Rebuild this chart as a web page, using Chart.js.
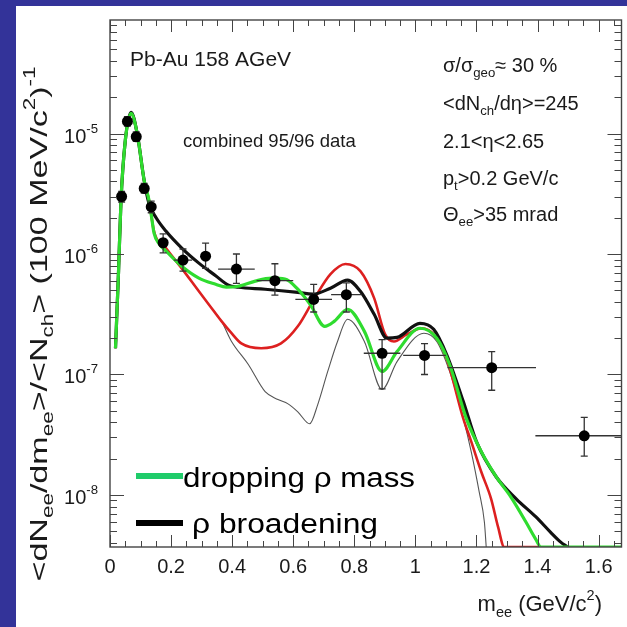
<!DOCTYPE html>
<html>
<head>
<meta charset="UTF-8">
<title>Pb-Au 158 AGeV dielectron spectrum</title>
<script src="https://cdn.jsdelivr.net/npm/chart.js"></script>
<style>
  html, body { margin: 0; padding: 0; background: #fff; }
  canvas { display: block; }
</style>
</head>
<body>
<canvas id="chart" width="627" height="627"></canvas>
<script>
// measured points: mass (GeV/c2), yield, half bin width, error band
const massPoints = [0.038, 0.057, 0.086, 0.112, 0.135, 0.174, 0.239, 0.313, 0.414, 0.54, 0.667, 0.774, 0.891, 1.03, 1.25, 1.553];
const yieldPoints = [3.0e-6, 1.26e-5, 9.4e-6, 3.5e-6, 2.46e-6, 1.24e-6, 8.9e-7, 9.6e-7, 7.5e-7, 6.0e-7, 4.2e-7, 4.6e-7, 1.5e-7, 1.44e-7, 1.14e-7, 3.1e-8];
const binHalfWidth = [0, 0, 0, 0, 0, 0, 0.03, 0, 0.06, 0.06, 0.06, 0.05, 0.06, 0.07, 0.145, 0.16];
const errHigh = [3.3e-6, 1.38e-5, 1.03e-5, 3.85e-6, 2.75e-6, 1.47e-6, 1.1e-6, 1.23e-6, 1.0e-6, 8.3e-7, 5.6e-7, 5.75e-7, 1.95e-7, 1.8e-7, 1.55e-7, 4.4e-8];
const errLow = [2.7e-6, 1.15e-5, 8.6e-6, 3.2e-6, 2.2e-6, 1.02e-6, 7.2e-7, 7.6e-7, 5.7e-7, 4.56e-7, 3.3e-7, 3.3e-7, 7.6e-8, 1.0e-7, 7.4e-8, 2.1e-8];

// model curves [mass, yield]
const greenCurve = [[0.018, 1.65e-7], [0.028, 7.2e-7], [0.036, 2.77e-6], [0.050, 8.7e-6], [0.069, 1.47e-5], [0.089, 1.0e-5],
  [0.112, 4.06e-6], [0.128, 2.77e-6], [0.138, 1.88e-6], [0.144, 1.5e-6], [0.161, 1.21e-6], [0.183, 1.06e-6], [0.235, 7.9e-7],
  [0.291, 6.3e-7], [0.346, 5.6e-7], [0.381, 5.3e-7], [0.420, 5.4e-7], [0.476, 5.96e-7], [0.528, 6.3e-7], [0.573, 6.2e-7],
  [0.615, 5.1e-7], [0.657, 3.76e-7], [0.703, 2.51e-7], [0.735, 2.77e-7], [0.778, 3.48e-7], [0.833, 2.28e-7], [0.891, 1.06e-7],
  [0.940, 1.55e-7], [1.015, 2.42e-7], [1.070, 2.0e-7], [1.112, 1.21e-7], [1.167, 4.3e-8], [1.216, 2.28e-8], [1.265, 1.41e-8],
  [1.313, 9.6e-9], [1.362, 5.96e-9], [1.394, 4.3e-9], [1.411, 3.7e-9], [1.675, 3.7e-9]];
const blackCurve = [[0.018, 1.65e-7], [0.028, 7.2e-7], [0.036, 2.77e-6], [0.050, 8.7e-6], [0.069, 1.5e-5], [0.089, 1.0e-5],
  [0.112, 4.06e-6], [0.128, 2.61e-6], [0.151, 2.0e-6], [0.183, 1.55e-6], [0.235, 1.12e-6], [0.291, 8.4e-7], [0.346, 6.6e-7],
  [0.388, 5.5e-7], [0.420, 5.3e-7], [0.508, 5.1e-7], [0.615, 4.8e-7], [0.664, 4.64e-7], [0.722, 5.2e-7], [0.778, 6.07e-7],
  [0.820, 4.9e-7], [0.865, 3.16e-7], [0.907, 2.0e-7], [0.940, 2.03e-7], [1.015, 2.66e-7], [1.060, 2.37e-7], [1.102, 1.47e-7],
  [1.157, 5.96e-8], [1.200, 2.77e-8], [1.265, 1.41e-8], [1.330, 9.3e-9], [1.394, 6.6e-9], [1.443, 4.9e-9], [1.476, 4.06e-9],
  [1.498, 3.7e-9]];
const redCurve = [[0.018, 1.65e-7], [0.028, 7.2e-7], [0.036, 2.77e-6], [0.050, 8.7e-6], [0.069, 1.47e-5], [0.089, 1.0e-5],
  [0.112, 4.06e-6], [0.128, 2.77e-6], [0.144, 1.55e-6], [0.183, 1.12e-6], [0.235, 7.6e-7], [0.291, 4.9e-7], [0.323, 3.83e-7],
  [0.365, 2.77e-7], [0.398, 2.2e-7], [0.430, 1.81e-7], [0.495, 1.65e-7], [0.560, 1.81e-7], [0.615, 2.51e-7], [0.670, 4.3e-7],
  [0.722, 6.8e-7], [0.771, 8.26e-7], [0.820, 7.2e-7], [0.865, 4.3e-7], [0.901, 2.15e-7], [0.930, 1.88e-7], [0.972, 2.15e-7],
  [1.021, 2.42e-7], [1.060, 2.15e-7], [1.102, 1.36e-7], [1.157, 4.3e-8], [1.183, 2.77e-8], [1.216, 1.55e-8], [1.248, 9.3e-9],
  [1.271, 5.4e-9], [1.291, 3.7e-9], [1.411, 3.7e-9]];
const grayCurve = [[0.018, 1.65e-7], [0.028, 7.2e-7], [0.036, 2.77e-6], [0.050, 8.7e-6], [0.069, 1.47e-5], [0.089, 1.0e-5],
  [0.112, 4.06e-6], [0.128, 2.77e-6], [0.144, 1.55e-6], [0.183, 1.12e-6], [0.235, 7.6e-7], [0.291, 4.9e-7], [0.323, 3.83e-7],
  [0.365, 2.77e-7], [0.398, 1.88e-7], [0.453, 1.21e-7], [0.508, 7.2e-8], [0.550, 6.2e-8], [0.583, 5.7e-8], [0.615, 4.9e-8],
  [0.654, 3.9e-8], [0.680, 5.6e-8], [0.713, 1.06e-7], [0.745, 1.88e-7], [0.778, 2.87e-7], [0.833, 1.88e-7], [0.891, 7.5e-8],
  [0.940, 1.28e-7], [1.028, 2.2e-7], [1.070, 1.88e-7], [1.112, 1.06e-7], [1.157, 4.3e-8], [1.183, 2.28e-8], [1.209, 1.06e-8],
  [1.226, 5.96e-9], [1.232, 3.7e-9]];

const xTicks = [0, 0.2, 0.4, 0.6, 0.8, 1, 1.2, 1.4, 1.6];
const yDecades = [-5, -6, -7, -8];

const FONT = '"Liberation Sans", Arial, Helvetica, sans-serif';
const toXY = arr => arr.map(([x, y]) => ({ x, y }));

function richText(ctx, segs, x, y, size, o = {}) {
  let w = 0;
  const parts = segs.map(([t, m]) => {
    const s = m ? size * 0.66 : size;
    ctx.font = `${s}px ${FONT}`;
    const pw = ctx.measureText(t).width;
    w += pw;
    return { t, s, pw, dy: m === 'sub' ? size * 0.25 : m === 'sup' ? -size * 0.5 : 0 };
  });
  const k = o.width ? o.width / w : 1;
  ctx.save();
  ctx.translate(x, y);
  if (o.rotate) ctx.rotate(o.rotate);
  ctx.scale(k, 1);
  let cx = o.align === 'center' ? -w / 2 : o.align === 'right' ? -w : 0;
  ctx.fillStyle = o.color || '#1a1a1a';
  ctx.textAlign = 'left';
  ctx.textBaseline = 'alphabetic';
  parts.forEach(p => {
    ctx.font = `${p.s}px ${FONT}`;
    ctx.fillText(p.t, cx, p.dy);
    cx += p.pw;
  });
  ctx.restore();
}

const decorations = {
  id: 'decorations',
  beforeDraw(chart) {
    const ctx = chart.ctx;
    ctx.save();
    ctx.fillStyle = '#333399';
    ctx.fillRect(0, 0, 627, 6);
    ctx.fillRect(0, 0, 16, 627);
    ctx.restore();
  },
  afterDatasetDraw(chart, args) {
    if (args.index !== 1) return;
    const { ctx, chartArea: a, scales: { x, y } } = chart;
    ctx.save();
    ctx.beginPath();
    ctx.rect(a.left, a.top, a.right - a.left, a.bottom - a.top);
    ctx.clip();
    ctx.strokeStyle = '#333';
    ctx.lineWidth = 1.3;
    massPoints.forEach((m, i) => {
      const px = x.getPixelForValue(m);
      const py = y.getPixelForValue(yieldPoints[i]);
      const hi = y.getPixelForValue(errHigh[i]);
      const lo = y.getPixelForValue(errLow[i]);
      ctx.beginPath();
      if (binHalfWidth[i] > 0) {
        ctx.moveTo(x.getPixelForValue(m - binHalfWidth[i]), py);
        ctx.lineTo(x.getPixelForValue(m + binHalfWidth[i]), py);
      }
      ctx.moveTo(px, hi); ctx.lineTo(px, lo);
      ctx.moveTo(px - 3.5, hi); ctx.lineTo(px + 3.5, hi);
      ctx.moveTo(px - 3.5, lo); ctx.lineTo(px + 3.5, lo);
      ctx.stroke();
    });
    ctx.restore();
  },
  afterDraw(chart) {
    const { ctx, chartArea: a, scales: { x, y } } = chart;
    ctx.save();
    // frame and inward ticks
    ctx.strokeStyle = '#444';
    ctx.lineWidth = 1.4;
    ctx.strokeRect(a.left, a.top, a.right - a.left, a.bottom - a.top);
    ctx.lineWidth = 1;
    ctx.beginPath();
    for (let d = -9; d <= -4; d++) {
      for (let m = 1; m <= 9; m++) {
        const v = m * Math.pow(10, d);
        if (v < y.min || v > y.max) continue;
        const py = Math.round(y.getPixelForValue(v)) + 0.5;
        const len = m === 1 ? 14 : 7;
        ctx.moveTo(a.left, py); ctx.lineTo(a.left + len, py);
        ctx.moveTo(a.right, py); ctx.lineTo(a.right - len, py);
      }
    }
    for (let i = 0; i * 0.05 <= x.max; i++) {
      const px = Math.round(x.getPixelForValue(i * 0.05)) + 0.5;
      const len = i % 4 === 0 ? 12 : 6;
      ctx.moveTo(px, a.bottom); ctx.lineTo(px, a.bottom - len);
      ctx.moveTo(px, a.top); ctx.lineTo(px, a.top + len);
    }
    ctx.stroke();

    // tick labels
    xTicks.forEach(v => {
      richText(ctx, [[String(v), '']], x.getPixelForValue(v), 573, 20, { align: 'center' });
    });
    yDecades.forEach(d => {
      const py = y.getPixelForValue(Math.pow(10, d));
      richText(ctx, [['10', ''], [String(d), 'sup']], 98, py + 9, 20, { align: 'right' });
    });

    // axis titles
    richText(ctx, [['m', ''], ['ee', 'sub'], [' (GeV/c', ''], ['2', 'sup'], [')', '']], 602, 611, 22, { align: 'right' });
    richText(ctx, [['<dN', ''], ['ee', 'sub'], ['/dm', ''], ['ee', 'sub'], ['>/<N', ''], ['ch', 'sub'],
      ['> (100 MeV/c', ''], ['2', 'sup'], [')', ''], ['-1', 'sup']], 47, 324, 24, { align: 'center', rotate: -Math.PI / 2, width: 515 });

    // annotations
    richText(ctx, [['Pb-Au 158 AGeV', '']], 130, 66, 21);
    richText(ctx, [['combined 95/96 data', '']], 183, 147, 18.5);
    const bx = 443;
    richText(ctx, [['σ/σ', ''], ['geo', 'sub'], ['≈ 30 %', '']], bx, 72, 20);
    richText(ctx, [['<dN', ''], ['ch', 'sub'], ['/dη>=245', '']], bx, 110, 20);
    richText(ctx, [['2.1<η<2.65', '']], bx, 148, 20);
    richText(ctx, [['p', ''], ['t', 'sub'], ['>0.2 GeV/c', '']], bx, 185, 20);
    richText(ctx, [['Θ', ''], ['ee', 'sub'], ['>35 mrad', '']], bx, 221, 20);

    // legend
    ctx.lineWidth = 6;
    ctx.strokeStyle = '#1fcc6a';
    ctx.beginPath(); ctx.moveTo(136, 476); ctx.lineTo(183, 476); ctx.stroke();
    ctx.strokeStyle = '#000';
    ctx.beginPath(); ctx.moveTo(136, 523); ctx.lineTo(183, 523); ctx.stroke();
    richText(ctx, [['dropping ρ mass', '']], 183, 487, 27, { color: '#000', width: 232 });
    richText(ctx, [['ρ broadening', '']], 192, 533, 27, { color: '#000', width: 186 });
    ctx.restore();
  }
};

const curveStyle = (data, color, width) => ({
  data: toXY(data), borderColor: color, borderWidth: width, pointRadius: 0,
  showLine: true, fill: false, cubicInterpolationMode: 'monotone'
});

new Chart(document.getElementById('chart'), {
  type: 'scatter',
  data: {
    datasets: [
      { data: massPoints.map((m, i) => ({ x: m, y: yieldPoints[i] })), backgroundColor: '#000', borderWidth: 0, pointRadius: 5.5, showLine: false },
      curveStyle(greenCurve, '#2fdc2f', 3.2),
      curveStyle(blackCurve, '#111', 3.2),
      curveStyle(redCurve, '#dd2020', 2.6),
      curveStyle(grayCurve, '#555', 1.1)
    ]
  },
  options: {
    responsive: false,
    animation: false,
    layout: { padding: { left: 110, right: 1, top: 20, bottom: 80 } },
    plugins: { legend: { display: false }, tooltip: { enabled: false } },
    scales: {
      x: { type: 'linear', display: false, min: 0, max: 1.675 },
      y: { type: 'logarithmic', display: false, min: 3.7e-9, max: 8.75e-5 }
    }
  },
  plugins: [decorations]
});
</script>
</body>
</html>
